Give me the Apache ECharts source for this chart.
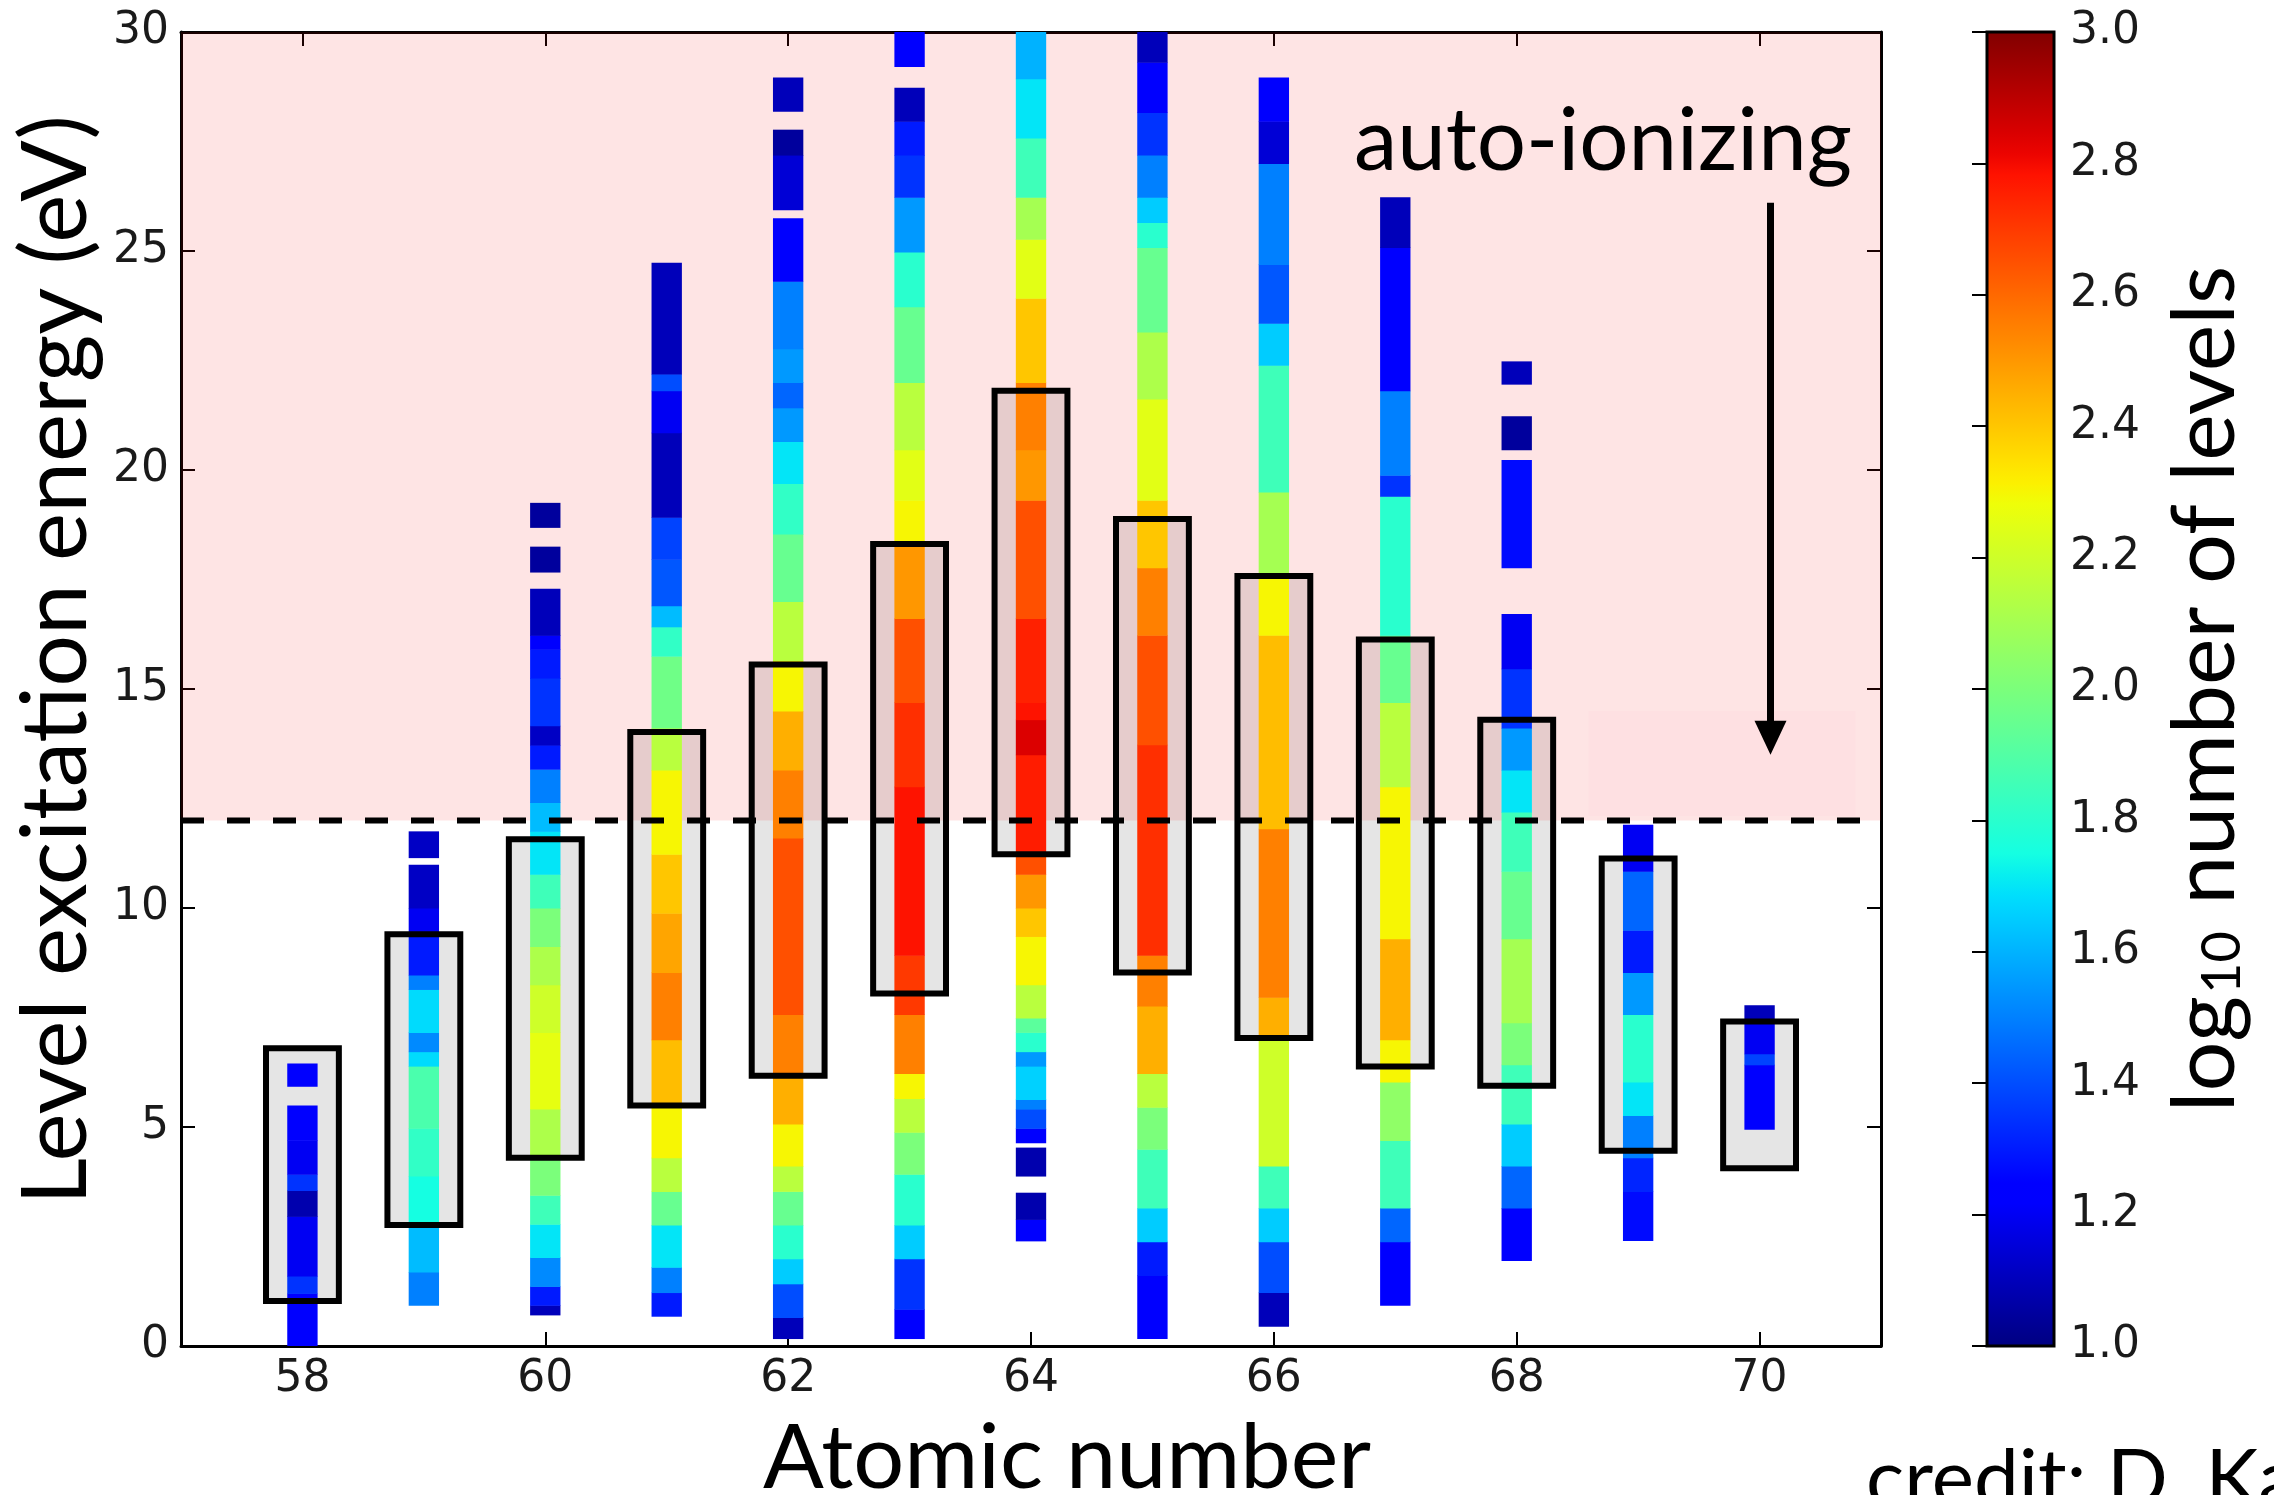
<!DOCTYPE html>
<html><head><meta charset="utf-8">
<script src="https://cdn.jsdelivr.net/npm/echarts@6/dist/echarts.min.js"></script>
<style>html,body{margin:0;padding:0;background:#fff}#chart{width:2274px;height:1495px}</style>
</head><body><div id="chart"></div>
<script>
// ---------- data ----------
const atomicNumbers = [58, 59, 60, 61, 62, 63, 64, 65, 66, 67, 68, 69, 70];
const xTickValues = [58, 60, 62, 64, 66, 68, 70];
const xRange = [57, 71];
const yRange = [0, 30];
const yTickStep = 5;
const colorRange = [1, 3];
const colorTickStep = 0.2;
const autoIonizingThreshold = 12;

// boxes (energy range per element)
const boxLow  = [1.03, 2.76, 4.30, 5.49, 6.17, 8.05, 11.23, 8.53, 7.03, 6.38, 5.94, 4.46, 4.06];
const boxHigh = [6.80, 9.40, 11.57, 14.02, 15.56, 18.31, 21.81, 18.88, 17.58, 16.13, 14.30, 11.13, 7.41];

// level-density strips: [E low, E high, log10 number of levels]
const levels58 = [[0,1.2,1.25],[1.2,1.6,1.35],[1.6,2.96,1.2],[2.96,3.55,1.08],[3.55,3.92,1.35],[3.92,4.7,1.2],[4.7,5.49,1.25],[5.93,6.45,1.25]];
const levels59 = [[0.93,1.69,1.5],[1.69,2.78,1.62],[2.78,3.88,1.75],[3.88,4.97,1.82],[4.97,6.39,1.88],[6.39,6.72,1.68],[6.72,7.16,1.52],[7.16,8.14,1.68],[8.14,8.47,1.5],[8.47,9.35,1.3],[9.35,10.0,1.2],[10.0,10.99,1.12],[11.15,11.75,1.12]];
const levels60 = [[0.71,0.93,1.1],[0.93,1.36,1.3],[1.36,2.02,1.52],[2.02,2.78,1.7],[2.78,3.44,1.85],[3.44,4.32,2.0],[4.32,5.41,2.12],[5.41,7.16,2.26],[7.16,8.25,2.2],[8.25,9.12,2.12],[9.12,10.0,2.0],[10.0,10.77,1.85],[10.77,11.75,1.7],[11.75,12.41,1.62],[12.41,13.17,1.5],[13.17,13.72,1.3],[13.72,14.16,1.12],[14.16,15.25,1.35],[15.25,15.91,1.3],[15.91,16.23,1.22],[16.23,17.29,1.1],[17.67,18.25,1.05],[18.69,19.25,1.05]];
const levels61 = [[0.68,1.22,1.3],[1.22,1.8,1.5],[1.8,2.76,1.7],[2.76,3.53,1.95],[3.53,4.3,2.15],[4.3,5.45,2.3],[5.45,6.99,2.42],[6.99,8.53,2.55],[8.53,9.88,2.47],[9.88,11.23,2.4],[11.23,13.15,2.3],[13.15,14.11,2.15],[14.11,15.75,1.97],[15.75,16.42,1.82],[16.42,16.9,1.62],[16.9,17.96,1.42],[17.96,18.92,1.38],[18.92,20.85,1.1],[20.85,21.81,1.2],[21.81,22.19,1.4],[22.19,24.73,1.1]];
const levels62 = [[0.17,0.65,1.1],[0.65,1.42,1.4],[1.42,1.99,1.65],[1.99,2.76,1.8],[2.76,3.53,1.95],[3.53,4.11,2.15],[4.11,5.07,2.3],[5.07,6.22,2.45],[6.22,7.57,2.55],[7.57,11.6,2.65],[11.6,13.15,2.55],[13.15,14.5,2.45],[14.5,15.65,2.3],[15.65,17.0,2.15],[17.0,18.54,1.95],[18.54,19.69,1.82],[19.69,20.65,1.7],[20.65,21.42,1.55],[21.42,22.0,1.45],[22.0,22.77,1.55],[22.77,24.31,1.5],[24.31,25.75,1.22],[25.94,27.19,1.15],[27.19,27.77,1.05],[28.19,28.96,1.1]];
const levels63 = [[0.17,0.84,1.25],[0.84,1.99,1.35],[1.99,2.76,1.65],[2.76,3.92,1.8],[3.92,4.88,2.0],[4.88,5.65,2.15],[5.65,6.22,2.3],[6.22,7.57,2.55],[7.57,8.92,2.7],[8.92,12.77,2.78],[12.77,14.69,2.72],[14.69,16.61,2.65],[16.61,18.35,2.5],[18.35,19.31,2.3],[19.31,20.46,2.25],[20.46,22.0,2.15],[22.0,23.73,1.95],[23.73,24.98,1.8],[24.98,26.23,1.55],[26.23,27.19,1.35],[27.19,27.96,1.3],[27.96,28.73,1.1],[29.21,30,1.25]];
const levels64 = [[2.4,2.89,1.22],[2.89,3.5,1.08],[3.88,4.53,1.08],[4.64,4.97,1.25],[4.97,5.41,1.4],[5.41,5.63,1.5],[5.63,6.39,1.66],[6.39,6.72,1.55],[6.72,7.16,1.8],[7.16,7.49,1.92],[7.49,8.25,2.15],[8.25,9.35,2.3],[9.35,10.0,2.4],[10.0,10.77,2.5],[10.77,11.23,2.65],[11.23,13.5,2.76],[13.5,14.3,2.84],[14.3,14.69,2.78],[14.69,16.61,2.75],[16.61,19.31,2.65],[19.31,20.46,2.5],[20.46,22.0,2.55],[22.0,23.92,2.4],[23.92,25.27,2.25],[25.27,26.23,2.1],[26.23,27.58,1.85],[27.58,28.93,1.7],[28.93,30,1.6]];
const levels65 = [[0.17,1.61,1.25],[1.61,2.38,1.3],[2.38,3.15,1.65],[3.15,4.49,1.85],[4.49,5.45,2.0],[5.45,6.22,2.15],[6.22,7.76,2.45],[7.76,8.92,2.55],[8.92,13.73,2.72],[13.73,16.23,2.65],[16.23,17.77,2.55],[17.77,19.31,2.4],[19.31,21.62,2.25],[21.62,23.15,2.12],[23.15,25.08,1.95],[25.08,25.65,1.8],[25.65,26.23,1.65],[26.23,27.19,1.5],[27.19,28.16,1.35],[28.16,29.31,1.25],[29.31,30,1.1]];
const levels66 = [[0.45,1.22,1.1],[1.22,2.38,1.4],[2.38,3.15,1.65],[3.15,4.11,1.85],[4.11,7.0,2.2],[7.0,7.96,2.45],[7.96,11.81,2.55],[11.81,16.23,2.42],[16.23,17.58,2.3],[17.58,19.5,2.1],[19.5,22.39,1.85],[22.39,23.35,1.65],[23.35,24.69,1.42],[24.69,27.0,1.5],[27.0,27.96,1.15],[27.96,28.96,1.22]];
const levels67 = [[0.93,2.38,1.25],[2.38,3.15,1.45],[3.15,4.69,1.85],[4.69,6.03,2.05],[6.03,6.99,2.3],[6.99,9.3,2.45],[9.3,12.77,2.3],[12.77,14.69,2.15],[14.69,16.23,1.95],[16.23,19.4,1.8],[19.4,19.88,1.35],[19.88,21.81,1.5],[21.81,25.08,1.25],[25.08,26.23,1.1]];
const levels68 = [[1.95,3.15,1.25],[3.15,4.11,1.45],[4.11,5.07,1.65],[5.07,6.42,1.85],[6.42,7.38,2.0],[7.38,9.3,2.1],[9.3,10.84,1.95],[10.84,12.19,1.85],[12.19,13.15,1.7],[13.15,14.11,1.55],[14.11,15.46,1.35],[15.46,16.71,1.2],[17.77,20.23,1.27],[20.46,21.23,1.05],[21.96,22.48,1.1]];
const levels69 = [[2.41,3.53,1.27],[3.53,4.3,1.32],[4.3,5.26,1.5],[5.26,6.03,1.7],[6.03,7.57,1.8],[7.57,8.53,1.55],[8.53,9.49,1.3],[9.49,10.84,1.45],[10.84,11.9,1.2]];
const levels70 = [[4.95,6.42,1.25],[6.42,6.67,1.38],[6.67,7.41,1.2],[7.41,7.78,1.1]];

// annotation: arrow [x, from E, to E]; faint label box behind arrow head [x0, x1, E0, E1]
const arrowSpec = [70.09, 26.1, 13.5];
const arrowBox = [68.59, 70.79, 12.1, 14.5];

// ---------- build ----------
const levelsByElement = [levels58, levels59, levels60, levels61, levels62, levels63, levels64, levels65, levels66, levels67, levels68, levels69, levels70];
const cellData = [];
atomicNumbers.forEach((z, i) => levelsByElement[i].forEach(c => cellData.push([z, c[0], c[1], c[2]])));
const boxData = atomicNumbers.map((z, i) => [z, boxLow[i], boxHigh[i]]);

const STRIP_HALF = 0.125, BOX_HALF = 0.3;
const FONT_T = 'Lato';
const FONT_N = 'DejaVu Sans';

function jet(t) {
  const cl = v => Math.max(0, Math.min(1, v));
  const r = t < 0.35 ? 0 : t < 0.66 ? (t - 0.35) / 0.31 : t < 0.89 ? 1 : 1 - (t - 0.89) / 0.11 * 0.5;
  const g = t < 0.125 ? 0 : t < 0.375 ? (t - 0.125) / 0.25 : t < 0.64 ? 1 : t < 0.91 ? 1 - (t - 0.64) / 0.27 : 0;
  const b = t < 0.11 ? 0.5 + t / 0.11 * 0.5 : t < 0.34 ? 1 : t < 0.65 ? 1 - (t - 0.34) / 0.31 : 0;
  return 'rgb(' + Math.round(cl(r) * 255) + ',' + Math.round(cl(g) * 255) + ',' + Math.round(cl(b) * 255) + ')';
}
const N_STOPS = 65;
const jetColors = [], jetStops = [];
for (let i = 0; i < N_STOPS; i++) {
  const t = i / (N_STOPS - 1);
  jetColors.push(jet(t));
  jetStops.push({ offset: 1 - t, color: jet(t) });
}
jetStops.reverse();

const chart = echarts.init(document.getElementById('chart'), null, { renderer: 'canvas' });

const axisLineStyle = { color: '#000', width: 3 };
const tickStyle = { color: '#000', width: 2 };
const numLabel = { fontFamily: FONT_N, fontSize: 44, color: '#1a1a1a' };

const rectFrom = (api, x0, x1, y0, y1) => {
  const p0 = api.coord([x0, y1]), p1 = api.coord([x1, y0]);
  return { x: p0[0], y: p0[1], width: p1[0] - p0[0], height: p1[1] - p0[1] };
};

const option = {
  backgroundColor: '#fff',
  animation: false,
  grid: [
    { left: 181, top: 32, width: 1700, height: 1314, outerBoundsMode: 'none', containLabel: false },
    { left: 1987, top: 32, width: 67, height: 1314, outerBoundsMode: 'none', containLabel: false }
  ],
  visualMap: {
    type: 'continuous', show: false, min: colorRange[0], max: colorRange[1],
    dimension: 3, seriesIndex: [2], inRange: { color: jetColors }
  },
  xAxis: [
    {
      type: 'value', gridIndex: 0, min: xRange[0], max: xRange[1], position: 'bottom',
      axisLine: { show: true, onZero: false, lineStyle: axisLineStyle },
      axisTick: { show: true, inside: true, length: 14, customValues: xTickValues, lineStyle: tickStyle },
      axisLabel: Object.assign({ customValues: xTickValues, margin: 12 }, numLabel),
      splitLine: { show: false },
      name: 'Atomic number', nameLocation: 'middle', nameGap: 68,
      nameTextStyle: { fontFamily: FONT_T, fontSize: 90, color: '#000', padding: [0, 0, 0, 72] }
    },
    {
      type: 'value', gridIndex: 0, min: xRange[0], max: xRange[1], position: 'top',
      axisLine: { show: true, onZero: false, lineStyle: axisLineStyle },
      axisTick: { show: true, inside: true, length: 14, customValues: xTickValues, lineStyle: tickStyle },
      axisLabel: { show: false }, splitLine: { show: false }
    },
    { type: 'value', gridIndex: 1, min: 0, max: 1, show: false }
  ],
  yAxis: [
    {
      type: 'value', gridIndex: 0, min: yRange[0], max: yRange[1], interval: yTickStep, position: 'left',
      axisLine: { show: true, onZero: false, lineStyle: axisLineStyle },
      axisTick: { show: true, inside: true, length: 14, lineStyle: tickStyle },
      axisLabel: Object.assign({ margin: 12 }, numLabel),
      splitLine: { show: false },
      name: 'Level excitation energy (eV)', nameLocation: 'middle', nameRotate: 90, nameGap: 73,
      nameTextStyle: { fontFamily: FONT_T, fontSize: 91, color: '#000', padding: [0, 0, 0, 58] }
    },
    {
      type: 'value', gridIndex: 0, min: yRange[0], max: yRange[1], interval: yTickStep, position: 'right',
      axisLine: { show: true, onZero: false, lineStyle: axisLineStyle },
      axisTick: { show: true, inside: true, length: 14, lineStyle: tickStyle },
      axisLabel: { show: false }, splitLine: { show: false }
    },
    {
      type: 'value', gridIndex: 1, min: colorRange[0], max: colorRange[1], interval: colorTickStep, position: 'right',
      axisLine: { show: false },
      axisTick: { show: true, inside: true, length: 15, lineStyle: tickStyle },
      axisLabel: Object.assign({ margin: 16, formatter: v => v.toFixed(1) }, numLabel),
      splitLine: { show: false },
      name: '{a|log}{s|10}{a| number of levels}', nameLocation: 'middle', nameRotate: 90, nameGap: 92,
      nameTextStyle: {
        fontFamily: FONT_T, fontSize: 88, color: '#000',
        rich: {
          a: { fontFamily: FONT_T, fontSize: 88, color: '#000', lineHeight: 104, verticalAlign: 'bottom' },
          s: { fontFamily: FONT_T, fontSize: 54, color: '#000', lineHeight: 104, verticalAlign: 'bottom', padding: [0, 4, 0, 2] }
        }
      }
    }
  ],
  graphic: [
    { type: 'text', left: 1354, top: 98, z: 50,
      style: { text: 'auto-ionizing', fontFamily: FONT_T, fontSize: 87, fill: '#000' } },
    { type: 'text', left: 1866, top: 1440, z: 50,
      style: { text: 'credit: D. Kasen', fontFamily: FONT_T, fontSize: 80, fill: '#000' } }
  ],
  series: [
    { // box fill
      type: 'custom', xAxisIndex: 0, yAxisIndex: 0, z: 1, silent: true, clip: true, data: boxData,
      renderItem: (params, api) => {
        const z = api.value(0);
        return { type: 'rect', shape: rectFrom(api, z - BOX_HALF, z + BOX_HALF, api.value(1), api.value(2)),
                 style: { fill: '#e5e5e5' } };
      }
    },
    { // auto-ionizing region + faint label box
      type: 'custom', xAxisIndex: 0, yAxisIndex: 0, z: 2, silent: true, clip: true,
      data: [[xRange[0], xRange[1], autoIonizingThreshold, yRange[1], 0], arrowBox.concat([1])],
      renderItem: (params, api) => {
        const isBox = api.value(4) === 1;
        return { type: 'rect', shape: rectFrom(api, api.value(0), api.value(1), api.value(2), api.value(3)),
                 style: { fill: isBox ? 'rgba(255,0,150,0.016)' : 'rgba(250,0,0,0.105)' } };
      }
    },
    { // level density cells
      type: 'custom', xAxisIndex: 0, yAxisIndex: 0, z: 3, silent: true, clip: true, data: cellData,
      dimensions: ['Z', 'Elow', 'Ehigh', 'log10N'],
      renderItem: (params, api) => {
        const z = api.value(0);
        const s = rectFrom(api, z - STRIP_HALF, z + STRIP_HALF, api.value(1), api.value(2));
        s.height += 0.5;
        return { type: 'rect', shape: s, style: { fill: api.visual('color') } };
      }
    },
    { // box outlines
      type: 'custom', xAxisIndex: 0, yAxisIndex: 0, z: 4, silent: true, clip: true, data: boxData,
      renderItem: (params, api) => {
        const z = api.value(0);
        return { type: 'rect', shape: rectFrom(api, z - BOX_HALF, z + BOX_HALF, api.value(1), api.value(2)),
                 style: { fill: 'none', stroke: '#000', lineWidth: 6 } };
      }
    },
    { // threshold
      type: 'custom', xAxisIndex: 0, yAxisIndex: 0, z: 5, silent: true, clip: true,
      data: [[xRange[0], xRange[1], autoIonizingThreshold]],
      renderItem: (params, api) => {
        const p0 = api.coord([api.value(0), api.value(2)]), p1 = api.coord([api.value(1), api.value(2)]);
        return { type: 'line', shape: { x1: p0[0], y1: p0[1], x2: p1[0], y2: p1[1] },
                 style: { stroke: '#000', lineWidth: 6, lineDash: [23, 23] } };
      }
    },
    { // arrow
      type: 'custom', xAxisIndex: 0, yAxisIndex: 0, z: 6, silent: true, clip: false,
      data: [arrowSpec],
      renderItem: (params, api) => {
        const top = api.coord([api.value(0), api.value(1)]), tip = api.coord([api.value(0), api.value(2)]);
        const headL = 34, headW = 16;
        return { type: 'group', children: [
          { type: 'line', shape: { x1: top[0], y1: top[1], x2: tip[0], y2: tip[1] - headL + 2 },
            style: { stroke: '#000', lineWidth: 7 } },
          { type: 'polygon', shape: { points: [[tip[0] - headW, tip[1] - headL], [tip[0] + headW, tip[1] - headL], [tip[0], tip[1]]] },
            style: { fill: '#000' } }
        ] };
      }
    },
    { // colorbar
      type: 'custom', xAxisIndex: 2, yAxisIndex: 2, z: 2, silent: true,
      data: [[0, 1, colorRange[0], colorRange[1]]],
      renderItem: (params, api) => {
        return { type: 'rect', shape: rectFrom(api, api.value(0), api.value(1), api.value(2), api.value(3)),
                 style: { fill: new echarts.graphic.LinearGradient(0, 0, 0, 1, jetStops), stroke: '#000', lineWidth: 3 } };
      }
    }
  ]
};
chart.setOption(option);
</script>
</body></html>
